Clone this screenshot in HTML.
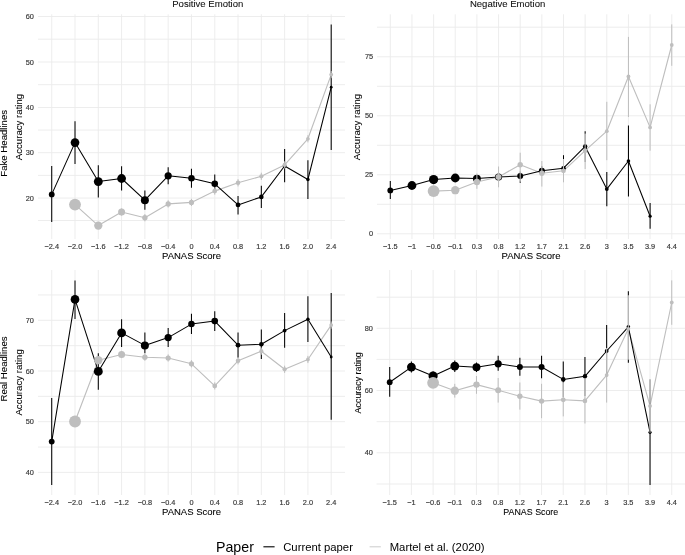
<!DOCTYPE html>
<html lang="en">
<head>
<meta charset="utf-8">
<title>Accuracy rating by PANAS Score</title>
<style>
html,body{margin:0;padding:0;background:#fff;}
body{width:685px;height:555px;overflow:hidden;}
svg{display:block;font-family:"Liberation Sans",Arial,Helvetica,sans-serif;}
text{paint-order:stroke;stroke-linejoin:round;}
.tk{stroke:#363636;stroke-width:0.16px;}
.ax{stroke:#000;stroke-width:0.08px;}
</style>
</head>
<body>
<svg width="685" height="555" viewBox="0 0 685 555">
<rect x="0" y="0" width="685" height="555" fill="#fff"/>
<g class="panel">
<line x1="38" x2="345" y1="39.2" y2="39.2" stroke="#ebebeb" stroke-width="0.9"/>
<line x1="38" x2="345" y1="84.7" y2="84.7" stroke="#ebebeb" stroke-width="0.9"/>
<line x1="38" x2="345" y1="130.1" y2="130.1" stroke="#ebebeb" stroke-width="0.9"/>
<line x1="38" x2="345" y1="175.4" y2="175.4" stroke="#ebebeb" stroke-width="0.9"/>
<line x1="38" x2="345" y1="220.5" y2="220.5" stroke="#ebebeb" stroke-width="0.9"/>
<line x1="38" x2="345" y1="16.5" y2="16.5" stroke="#ebebeb" stroke-width="0.9"/>
<line x1="38" x2="345" y1="62" y2="62" stroke="#ebebeb" stroke-width="0.9"/>
<line x1="38" x2="345" y1="107.5" y2="107.5" stroke="#ebebeb" stroke-width="0.9"/>
<line x1="38" x2="345" y1="152.7" y2="152.7" stroke="#ebebeb" stroke-width="0.9"/>
<line x1="38" x2="345" y1="198.1" y2="198.1" stroke="#ebebeb" stroke-width="0.9"/>
<line x1="51.72" x2="51.72" y1="14.3" y2="239" stroke="#ebebeb" stroke-width="0.9"/>
<line x1="75.01" x2="75.01" y1="14.3" y2="239" stroke="#ebebeb" stroke-width="0.9"/>
<line x1="98.30" x2="98.30" y1="14.3" y2="239" stroke="#ebebeb" stroke-width="0.9"/>
<line x1="121.59" x2="121.59" y1="14.3" y2="239" stroke="#ebebeb" stroke-width="0.9"/>
<line x1="144.88" x2="144.88" y1="14.3" y2="239" stroke="#ebebeb" stroke-width="0.9"/>
<line x1="168.17" x2="168.17" y1="14.3" y2="239" stroke="#ebebeb" stroke-width="0.9"/>
<line x1="191.46" x2="191.46" y1="14.3" y2="239" stroke="#ebebeb" stroke-width="0.9"/>
<line x1="214.75" x2="214.75" y1="14.3" y2="239" stroke="#ebebeb" stroke-width="0.9"/>
<line x1="238.04" x2="238.04" y1="14.3" y2="239" stroke="#ebebeb" stroke-width="0.9"/>
<line x1="261.33" x2="261.33" y1="14.3" y2="239" stroke="#ebebeb" stroke-width="0.9"/>
<line x1="284.62" x2="284.62" y1="14.3" y2="239" stroke="#ebebeb" stroke-width="0.9"/>
<line x1="307.91" x2="307.91" y1="14.3" y2="239" stroke="#ebebeb" stroke-width="0.9"/>
<line x1="331.20" x2="331.20" y1="14.3" y2="239" stroke="#ebebeb" stroke-width="0.9"/>
<polyline points="75.01,204.6 98.30,225.6 121.59,212.0 144.88,217.7 168.17,203.9 191.46,202.4 214.75,191.1 238.04,182.8 261.33,176.3 284.62,164.9 307.91,138.8 331.20,74.6" fill="none" stroke="#bebebe" stroke-width="1.12" stroke-linejoin="round"/>
<polyline points="51.72,194.4 75.01,142.6 98.30,181.6 121.59,178.5 144.88,200.2 168.17,175.8 191.46,178.3 214.75,183.8 238.04,204.9 261.33,196.9 284.62,166.0 307.91,179.5 331.20,87.2" fill="none" stroke="#000" stroke-width="1.05" stroke-linejoin="round"/>
<line x1="51.72" x2="51.72" y1="166.0" y2="222.0" stroke="#000" stroke-width="1.05"/>
<line x1="75.01" x2="75.01" y1="121.3" y2="164.0" stroke="#000" stroke-width="1.05"/>
<line x1="98.30" x2="98.30" y1="165.2" y2="197.6" stroke="#000" stroke-width="1.05"/>
<line x1="121.59" x2="121.59" y1="166.2" y2="190.6" stroke="#000" stroke-width="1.05"/>
<line x1="144.88" x2="144.88" y1="190.4" y2="209.7" stroke="#000" stroke-width="1.05"/>
<line x1="168.17" x2="168.17" y1="167.2" y2="184.3" stroke="#000" stroke-width="1.05"/>
<line x1="191.46" x2="191.46" y1="168.7" y2="187.8" stroke="#000" stroke-width="1.05"/>
<line x1="214.75" x2="214.75" y1="174.5" y2="192.9" stroke="#000" stroke-width="1.05"/>
<line x1="238.04" x2="238.04" y1="195.9" y2="214.5" stroke="#000" stroke-width="1.05"/>
<line x1="261.33" x2="261.33" y1="185.8" y2="207.9" stroke="#000" stroke-width="1.05"/>
<line x1="284.62" x2="284.62" y1="149.1" y2="182.3" stroke="#000" stroke-width="1.05"/>
<line x1="307.91" x2="307.91" y1="160.2" y2="198.9" stroke="#000" stroke-width="1.05"/>
<line x1="331.20" x2="331.20" y1="24.4" y2="150.0" stroke="#000" stroke-width="1.05"/>
<circle cx="51.72" cy="194.4" r="2.9" fill="#000"/>
<circle cx="75.01" cy="142.6" r="4.35" fill="#000"/>
<circle cx="98.30" cy="181.6" r="4.45" fill="#000"/>
<circle cx="121.59" cy="178.5" r="4.4" fill="#000"/>
<circle cx="144.88" cy="200.2" r="4.0" fill="#000"/>
<circle cx="168.17" cy="175.8" r="3.6" fill="#000"/>
<circle cx="191.46" cy="178.3" r="3.25" fill="#000"/>
<circle cx="214.75" cy="183.8" r="3.3" fill="#000"/>
<circle cx="238.04" cy="204.9" r="2.4" fill="#000"/>
<circle cx="261.33" cy="196.9" r="2.3" fill="#000"/>
<circle cx="284.62" cy="166.0" r="1.9" fill="#000"/>
<circle cx="307.91" cy="179.5" r="1.75" fill="#000"/>
<circle cx="331.20" cy="87.2" r="1.4" fill="#000"/>
<line x1="75.01" x2="75.01" y1="204.0" y2="206.0" stroke="#bebebe" stroke-width="1.0"/>
<line x1="98.30" x2="98.30" y1="224.3" y2="226.8" stroke="#bebebe" stroke-width="1.0"/>
<line x1="121.59" x2="121.59" y1="208.4" y2="215.6" stroke="#bebebe" stroke-width="1.0"/>
<line x1="144.88" x2="144.88" y1="214.1" y2="221.3" stroke="#bebebe" stroke-width="1.0"/>
<line x1="168.17" x2="168.17" y1="200.3" y2="207.5" stroke="#bebebe" stroke-width="1.0"/>
<line x1="191.46" x2="191.46" y1="198.8" y2="206.0" stroke="#bebebe" stroke-width="1.0"/>
<line x1="214.75" x2="214.75" y1="187.5" y2="194.7" stroke="#bebebe" stroke-width="1.0"/>
<line x1="238.04" x2="238.04" y1="179.2" y2="186.4" stroke="#bebebe" stroke-width="1.0"/>
<line x1="261.33" x2="261.33" y1="172.7" y2="179.9" stroke="#bebebe" stroke-width="1.0"/>
<line x1="284.62" x2="284.62" y1="161.3" y2="168.5" stroke="#bebebe" stroke-width="1.0"/>
<line x1="307.91" x2="307.91" y1="135.2" y2="142.4" stroke="#bebebe" stroke-width="1.0"/>
<line x1="331.20" x2="331.20" y1="71.0" y2="78.2" stroke="#bebebe" stroke-width="1.0"/>
<circle cx="75.01" cy="204.6" r="5.9" fill="#bebebe"/>
<circle cx="98.30" cy="225.6" r="4.15" fill="#bebebe"/>
<circle cx="121.59" cy="212.0" r="3.5" fill="#bebebe"/>
<circle cx="144.88" cy="217.7" r="2.7" fill="#bebebe"/>
<circle cx="168.17" cy="203.9" r="2.6" fill="#bebebe"/>
<circle cx="191.46" cy="202.4" r="2.6" fill="#bebebe"/>
<circle cx="214.75" cy="191.1" r="2.4" fill="#bebebe"/>
<circle cx="238.04" cy="182.8" r="2.3" fill="#bebebe"/>
<circle cx="261.33" cy="176.3" r="2.1" fill="#bebebe"/>
<circle cx="284.62" cy="164.9" r="2.1" fill="#bebebe"/>
<circle cx="307.91" cy="138.8" r="1.9" fill="#bebebe"/>
<circle cx="331.20" cy="74.6" r="1.9" fill="#bebebe"/>
<text x="33.9" y="16.50" class="tk" font-size="7.35" fill="#363636" text-anchor="end" dominant-baseline="central">60</text>
<text x="33.9" y="62.00" class="tk" font-size="7.35" fill="#363636" text-anchor="end" dominant-baseline="central">50</text>
<text x="33.9" y="107.50" class="tk" font-size="7.35" fill="#363636" text-anchor="end" dominant-baseline="central">40</text>
<text x="33.9" y="152.70" class="tk" font-size="7.35" fill="#363636" text-anchor="end" dominant-baseline="central">30</text>
<text x="33.9" y="198.10" class="tk" font-size="7.35" fill="#363636" text-anchor="end" dominant-baseline="central">20</text>
<text x="51.72" y="246.05" class="tk" font-size="7.35" fill="#363636" text-anchor="middle" dominant-baseline="central">−2.4</text>
<text x="75.01" y="246.05" class="tk" font-size="7.35" fill="#363636" text-anchor="middle" dominant-baseline="central">−2.0</text>
<text x="98.30" y="246.05" class="tk" font-size="7.35" fill="#363636" text-anchor="middle" dominant-baseline="central">−1.6</text>
<text x="121.59" y="246.05" class="tk" font-size="7.35" fill="#363636" text-anchor="middle" dominant-baseline="central">−1.2</text>
<text x="144.88" y="246.05" class="tk" font-size="7.35" fill="#363636" text-anchor="middle" dominant-baseline="central">−0.8</text>
<text x="168.17" y="246.05" class="tk" font-size="7.35" fill="#363636" text-anchor="middle" dominant-baseline="central">−0.4</text>
<text x="191.46" y="246.05" class="tk" font-size="7.35" fill="#363636" text-anchor="middle" dominant-baseline="central">0</text>
<text x="214.75" y="246.05" class="tk" font-size="7.35" fill="#363636" text-anchor="middle" dominant-baseline="central">0.4</text>
<text x="238.04" y="246.05" class="tk" font-size="7.35" fill="#363636" text-anchor="middle" dominant-baseline="central">0.8</text>
<text x="261.33" y="246.05" class="tk" font-size="7.35" fill="#363636" text-anchor="middle" dominant-baseline="central">1.2</text>
<text x="284.62" y="246.05" class="tk" font-size="7.35" fill="#363636" text-anchor="middle" dominant-baseline="central">1.6</text>
<text x="307.91" y="246.05" class="tk" font-size="7.35" fill="#363636" text-anchor="middle" dominant-baseline="central">2.0</text>
<text x="331.20" y="246.05" class="tk" font-size="7.35" fill="#363636" text-anchor="middle" dominant-baseline="central">2.4</text>
<text x="191.5" y="255.5" class="ax" font-size="9.5" fill="#000" text-anchor="middle" dominant-baseline="central">PANAS Score</text>
<text transform="translate(18.1,127) rotate(-90)" class="ax" font-size="9.65" fill="#000" text-anchor="middle" dominant-baseline="central">Accuracy rating</text>
<text transform="translate(3.2,143.3) rotate(-90)" class="ax" font-size="9.6" fill="#000" text-anchor="middle" dominant-baseline="central">Fake Headlines</text>
<text x="207.8" y="3.3" class="ax" font-size="9.56" fill="#111" text-anchor="middle" dominant-baseline="central">Positive Emotion</text>
</g>
<g class="panel">
<line x1="377" x2="685" y1="27.2" y2="27.2" stroke="#ebebeb" stroke-width="0.9"/>
<line x1="377" x2="685" y1="86.3" y2="86.3" stroke="#ebebeb" stroke-width="0.9"/>
<line x1="377" x2="685" y1="145.3" y2="145.3" stroke="#ebebeb" stroke-width="0.9"/>
<line x1="377" x2="685" y1="204.3" y2="204.3" stroke="#ebebeb" stroke-width="0.9"/>
<line x1="377" x2="685" y1="56.8" y2="56.8" stroke="#ebebeb" stroke-width="0.9"/>
<line x1="377" x2="685" y1="115.8" y2="115.8" stroke="#ebebeb" stroke-width="0.9"/>
<line x1="377" x2="685" y1="174.8" y2="174.8" stroke="#ebebeb" stroke-width="0.9"/>
<line x1="377" x2="685" y1="233.8" y2="233.8" stroke="#ebebeb" stroke-width="0.9"/>
<line x1="390.30" x2="390.30" y1="14.3" y2="239" stroke="#ebebeb" stroke-width="0.9"/>
<line x1="411.95" x2="411.95" y1="14.3" y2="239" stroke="#ebebeb" stroke-width="0.9"/>
<line x1="433.60" x2="433.60" y1="14.3" y2="239" stroke="#ebebeb" stroke-width="0.9"/>
<line x1="455.25" x2="455.25" y1="14.3" y2="239" stroke="#ebebeb" stroke-width="0.9"/>
<line x1="476.90" x2="476.90" y1="14.3" y2="239" stroke="#ebebeb" stroke-width="0.9"/>
<line x1="498.55" x2="498.55" y1="14.3" y2="239" stroke="#ebebeb" stroke-width="0.9"/>
<line x1="520.20" x2="520.20" y1="14.3" y2="239" stroke="#ebebeb" stroke-width="0.9"/>
<line x1="541.85" x2="541.85" y1="14.3" y2="239" stroke="#ebebeb" stroke-width="0.9"/>
<line x1="563.50" x2="563.50" y1="14.3" y2="239" stroke="#ebebeb" stroke-width="0.9"/>
<line x1="585.15" x2="585.15" y1="14.3" y2="239" stroke="#ebebeb" stroke-width="0.9"/>
<line x1="606.80" x2="606.80" y1="14.3" y2="239" stroke="#ebebeb" stroke-width="0.9"/>
<line x1="628.45" x2="628.45" y1="14.3" y2="239" stroke="#ebebeb" stroke-width="0.9"/>
<line x1="650.10" x2="650.10" y1="14.3" y2="239" stroke="#ebebeb" stroke-width="0.9"/>
<line x1="671.75" x2="671.75" y1="14.3" y2="239" stroke="#ebebeb" stroke-width="0.9"/>
<polyline points="433.60,191.1 455.25,190.2 476.90,182.0 498.55,177.0 520.20,164.7 541.85,173.3 563.50,170.8 585.15,150.7 606.80,131.2 628.45,76.5 650.10,127.4 671.75,45" fill="none" stroke="#bebebe" stroke-width="1.12" stroke-linejoin="round"/>
<polyline points="390.30,190.4 411.95,185.5 433.60,179.6 455.25,178.0 476.90,178.6 498.55,177.0 520.20,176 541.85,170.8 563.50,168.2 585.15,146.4 606.80,189.1 628.45,161 650.10,216.2" fill="none" stroke="#000" stroke-width="1.05" stroke-linejoin="round"/>
<line x1="390.30" x2="390.30" y1="181.0" y2="199.1" stroke="#000" stroke-width="1.05"/>
<line x1="411.95" x2="411.95" y1="182.5" y2="188.7" stroke="#000" stroke-width="1.05"/>
<line x1="433.60" x2="433.60" y1="177.0" y2="182.6" stroke="#000" stroke-width="1.05"/>
<line x1="455.25" x2="455.25" y1="175.5" y2="181.0" stroke="#000" stroke-width="1.05"/>
<line x1="476.90" x2="476.90" y1="175.5" y2="182.0" stroke="#000" stroke-width="1.05" stroke-opacity="0.5"/>
<line x1="498.55" x2="498.55" y1="173.5" y2="181.0" stroke="#000" stroke-width="1.05" stroke-opacity="0.5"/>
<line x1="520.20" x2="520.20" y1="171.5" y2="181.6" stroke="#000" stroke-width="1.05" stroke-opacity="0.5"/>
<line x1="520.20" x2="520.20" y1="181.6" y2="182.8" stroke="#000" stroke-width="1.05"/>
<line x1="541.85" x2="541.85" y1="166.0" y2="175.5" stroke="#000" stroke-width="1.05" stroke-opacity="0.5"/>
<line x1="563.50" x2="563.50" y1="155.2" y2="159.0" stroke="#000" stroke-width="1.05"/>
<line x1="563.50" x2="563.50" y1="159.0" y2="181.0" stroke="#000" stroke-width="1.05" stroke-opacity="0.5"/>
<line x1="585.15" x2="585.15" y1="131.2" y2="133.8" stroke="#000" stroke-width="1.05"/>
<line x1="585.15" x2="585.15" y1="133.8" y2="162.0" stroke="#000" stroke-width="1.05" stroke-opacity="0.5"/>
<line x1="606.80" x2="606.80" y1="172.0" y2="206.2" stroke="#000" stroke-width="1.05"/>
<line x1="628.45" x2="628.45" y1="125.5" y2="196.6" stroke="#000" stroke-width="1.05"/>
<line x1="650.10" x2="650.10" y1="202.9" y2="228.8" stroke="#000" stroke-width="1.05"/>
<circle cx="390.30" cy="190.4" r="2.9" fill="#000"/>
<circle cx="411.95" cy="185.5" r="4.4" fill="#000"/>
<circle cx="433.60" cy="179.6" r="4.6" fill="#000"/>
<circle cx="455.25" cy="178.0" r="4.4" fill="#000"/>
<circle cx="476.90" cy="178.6" r="3.95" fill="#000"/>
<circle cx="498.55" cy="177.0" r="3.6" fill="#000"/>
<circle cx="520.20" cy="176" r="3.0" fill="#000"/>
<circle cx="541.85" cy="170.8" r="3.0" fill="#000"/>
<circle cx="563.50" cy="168.2" r="2.3" fill="#000"/>
<circle cx="585.15" cy="146.4" r="2.2" fill="#000"/>
<circle cx="606.80" cy="189.1" r="1.9" fill="#000"/>
<circle cx="628.45" cy="161" r="1.8" fill="#000"/>
<circle cx="650.10" cy="216.2" r="1.6" fill="#000"/>
<line x1="433.60" x2="433.60" y1="190.0" y2="192.0" stroke="#bebebe" stroke-width="1.0"/>
<line x1="455.25" x2="455.25" y1="188.5" y2="192.3" stroke="#bebebe" stroke-width="1.0"/>
<line x1="476.90" x2="476.90" y1="173.5" y2="188.8" stroke="#bebebe" stroke-width="1.0"/>
<line x1="498.55" x2="498.55" y1="166.5" y2="187.3" stroke="#bebebe" stroke-width="1.0"/>
<line x1="520.20" x2="520.20" y1="152.7" y2="181.6" stroke="#bebebe" stroke-width="1.0"/>
<line x1="541.85" x2="541.85" y1="161.0" y2="186.6" stroke="#bebebe" stroke-width="1.0"/>
<line x1="563.50" x2="563.50" y1="159.0" y2="182.3" stroke="#bebebe" stroke-width="1.0"/>
<line x1="585.15" x2="585.15" y1="133.8" y2="169.0" stroke="#bebebe" stroke-width="1.0"/>
<line x1="606.80" x2="606.80" y1="101.8" y2="160.2" stroke="#bebebe" stroke-width="1.0"/>
<line x1="628.45" x2="628.45" y1="36.9" y2="117.0" stroke="#bebebe" stroke-width="1.0"/>
<line x1="650.10" x2="650.10" y1="104.3" y2="150.7" stroke="#bebebe" stroke-width="1.0"/>
<line x1="671.75" x2="671.75" y1="24.4" y2="65.8" stroke="#bebebe" stroke-width="1.0"/>
<circle cx="433.60" cy="191.1" r="5.9" fill="#bebebe"/>
<circle cx="455.25" cy="190.2" r="4.15" fill="#bebebe"/>
<circle cx="476.90" cy="182.0" r="3.2" fill="#bebebe"/>
<circle cx="498.55" cy="177.0" r="3.0" fill="#bebebe"/>
<circle cx="520.20" cy="164.7" r="2.7" fill="#bebebe"/>
<circle cx="541.85" cy="173.3" r="2.7" fill="#bebebe"/>
<circle cx="563.50" cy="170.8" r="2.4" fill="#bebebe"/>
<circle cx="585.15" cy="150.7" r="2.3" fill="#bebebe"/>
<circle cx="606.80" cy="131.2" r="1.9" fill="#bebebe"/>
<circle cx="628.45" cy="76.5" r="1.9" fill="#bebebe"/>
<circle cx="650.10" cy="127.4" r="1.9" fill="#bebebe"/>
<circle cx="671.75" cy="45" r="1.9" fill="#bebebe"/>
<text x="373.1" y="56.80" class="tk" font-size="7.35" fill="#363636" text-anchor="end" dominant-baseline="central">75</text>
<text x="373.1" y="115.80" class="tk" font-size="7.35" fill="#363636" text-anchor="end" dominant-baseline="central">50</text>
<text x="373.1" y="174.80" class="tk" font-size="7.35" fill="#363636" text-anchor="end" dominant-baseline="central">25</text>
<text x="373.1" y="233.80" class="tk" font-size="7.35" fill="#363636" text-anchor="end" dominant-baseline="central">0</text>
<text x="390.30" y="246.05" class="tk" font-size="7.35" fill="#363636" text-anchor="middle" dominant-baseline="central">−1.5</text>
<text x="411.95" y="246.05" class="tk" font-size="7.35" fill="#363636" text-anchor="middle" dominant-baseline="central">−1</text>
<text x="433.60" y="246.05" class="tk" font-size="7.35" fill="#363636" text-anchor="middle" dominant-baseline="central">−0.6</text>
<text x="455.25" y="246.05" class="tk" font-size="7.35" fill="#363636" text-anchor="middle" dominant-baseline="central">−0.1</text>
<text x="476.90" y="246.05" class="tk" font-size="7.35" fill="#363636" text-anchor="middle" dominant-baseline="central">0.3</text>
<text x="498.55" y="246.05" class="tk" font-size="7.35" fill="#363636" text-anchor="middle" dominant-baseline="central">0.8</text>
<text x="520.20" y="246.05" class="tk" font-size="7.35" fill="#363636" text-anchor="middle" dominant-baseline="central">1.2</text>
<text x="541.85" y="246.05" class="tk" font-size="7.35" fill="#363636" text-anchor="middle" dominant-baseline="central">1.7</text>
<text x="563.50" y="246.05" class="tk" font-size="7.35" fill="#363636" text-anchor="middle" dominant-baseline="central">2.1</text>
<text x="585.15" y="246.05" class="tk" font-size="7.35" fill="#363636" text-anchor="middle" dominant-baseline="central">2.6</text>
<text x="606.80" y="246.05" class="tk" font-size="7.35" fill="#363636" text-anchor="middle" dominant-baseline="central">3</text>
<text x="628.45" y="246.05" class="tk" font-size="7.35" fill="#363636" text-anchor="middle" dominant-baseline="central">3.5</text>
<text x="650.10" y="246.05" class="tk" font-size="7.35" fill="#363636" text-anchor="middle" dominant-baseline="central">3.9</text>
<text x="671.75" y="246.05" class="tk" font-size="7.35" fill="#363636" text-anchor="middle" dominant-baseline="central">4.4</text>
<text x="531.0" y="255.5" class="ax" font-size="9.5" fill="#000" text-anchor="middle" dominant-baseline="central">PANAS Score</text>
<text transform="translate(356.6,127) rotate(-90)" class="ax" font-size="9.65" fill="#000" text-anchor="middle" dominant-baseline="central">Accuracy rating</text>
<text x="507.6" y="3.3" class="ax" font-size="9.56" fill="#111" text-anchor="middle" dominant-baseline="central">Negative Emotion</text>
</g>
<g class="panel">
<line x1="38" x2="345" y1="294.95" y2="294.95" stroke="#ebebeb" stroke-width="0.9"/>
<line x1="38" x2="345" y1="345.65" y2="345.65" stroke="#ebebeb" stroke-width="0.9"/>
<line x1="38" x2="345" y1="396.35" y2="396.35" stroke="#ebebeb" stroke-width="0.9"/>
<line x1="38" x2="345" y1="447.05" y2="447.05" stroke="#ebebeb" stroke-width="0.9"/>
<line x1="38" x2="345" y1="320.3" y2="320.3" stroke="#ebebeb" stroke-width="0.9"/>
<line x1="38" x2="345" y1="371.0" y2="371.0" stroke="#ebebeb" stroke-width="0.9"/>
<line x1="38" x2="345" y1="421.7" y2="421.7" stroke="#ebebeb" stroke-width="0.9"/>
<line x1="38" x2="345" y1="472.4" y2="472.4" stroke="#ebebeb" stroke-width="0.9"/>
<line x1="51.72" x2="51.72" y1="270" y2="495.0" stroke="#ebebeb" stroke-width="0.9"/>
<line x1="75.01" x2="75.01" y1="270" y2="495.0" stroke="#ebebeb" stroke-width="0.9"/>
<line x1="98.30" x2="98.30" y1="270" y2="495.0" stroke="#ebebeb" stroke-width="0.9"/>
<line x1="121.59" x2="121.59" y1="270" y2="495.0" stroke="#ebebeb" stroke-width="0.9"/>
<line x1="144.88" x2="144.88" y1="270" y2="495.0" stroke="#ebebeb" stroke-width="0.9"/>
<line x1="168.17" x2="168.17" y1="270" y2="495.0" stroke="#ebebeb" stroke-width="0.9"/>
<line x1="191.46" x2="191.46" y1="270" y2="495.0" stroke="#ebebeb" stroke-width="0.9"/>
<line x1="214.75" x2="214.75" y1="270" y2="495.0" stroke="#ebebeb" stroke-width="0.9"/>
<line x1="238.04" x2="238.04" y1="270" y2="495.0" stroke="#ebebeb" stroke-width="0.9"/>
<line x1="261.33" x2="261.33" y1="270" y2="495.0" stroke="#ebebeb" stroke-width="0.9"/>
<line x1="284.62" x2="284.62" y1="270" y2="495.0" stroke="#ebebeb" stroke-width="0.9"/>
<line x1="307.91" x2="307.91" y1="270" y2="495.0" stroke="#ebebeb" stroke-width="0.9"/>
<line x1="331.20" x2="331.20" y1="270" y2="495.0" stroke="#ebebeb" stroke-width="0.9"/>
<polyline points="75.01,421.5 98.30,360.2 121.59,354.5 144.88,357.2 168.17,358 191.46,363.8 214.75,385.9 238.04,360.8 261.33,351.2 284.62,369.3 307.91,359.5 331.20,325.1" fill="none" stroke="#bebebe" stroke-width="1.12" stroke-linejoin="round"/>
<polyline points="51.72,441.6 75.01,299.4 98.30,371.4 121.59,332.9 144.88,345.4 168.17,337.6 191.46,324.1 214.75,321.1 238.04,345.2 261.33,344.2 284.62,330.6 307.91,319.3 331.20,357" fill="none" stroke="#000" stroke-width="1.05" stroke-linejoin="round"/>
<line x1="51.72" x2="51.72" y1="398.1" y2="485.0" stroke="#000" stroke-width="1.05"/>
<line x1="75.01" x2="75.01" y1="280.4" y2="318.9" stroke="#000" stroke-width="1.05"/>
<line x1="98.30" x2="98.30" y1="353.2" y2="389.7" stroke="#000" stroke-width="1.05"/>
<line x1="121.59" x2="121.59" y1="319.3" y2="346.9" stroke="#000" stroke-width="1.05"/>
<line x1="144.88" x2="144.88" y1="332.6" y2="353.2" stroke="#000" stroke-width="1.05"/>
<line x1="168.17" x2="168.17" y1="328.1" y2="346.9" stroke="#000" stroke-width="1.05"/>
<line x1="191.46" x2="191.46" y1="313.8" y2="333.9" stroke="#000" stroke-width="1.05"/>
<line x1="214.75" x2="214.75" y1="311.3" y2="331.1" stroke="#000" stroke-width="1.05"/>
<line x1="238.04" x2="238.04" y1="332.6" y2="357.7" stroke="#000" stroke-width="1.05"/>
<line x1="261.33" x2="261.33" y1="329.4" y2="359.0" stroke="#000" stroke-width="1.05"/>
<line x1="284.62" x2="284.62" y1="313.0" y2="347.7" stroke="#000" stroke-width="1.05"/>
<line x1="307.91" x2="307.91" y1="296.2" y2="341.9" stroke="#000" stroke-width="1.05"/>
<line x1="331.20" x2="331.20" y1="292.9" y2="419.7" stroke="#000" stroke-width="1.05"/>
<circle cx="51.72" cy="441.6" r="2.9" fill="#000"/>
<circle cx="75.01" cy="299.4" r="4.35" fill="#000"/>
<circle cx="98.30" cy="371.4" r="4.45" fill="#000"/>
<circle cx="121.59" cy="332.9" r="4.4" fill="#000"/>
<circle cx="144.88" cy="345.4" r="4.0" fill="#000"/>
<circle cx="168.17" cy="337.6" r="3.6" fill="#000"/>
<circle cx="191.46" cy="324.1" r="3.25" fill="#000"/>
<circle cx="214.75" cy="321.1" r="3.3" fill="#000"/>
<circle cx="238.04" cy="345.2" r="2.4" fill="#000"/>
<circle cx="261.33" cy="344.2" r="2.3" fill="#000"/>
<circle cx="284.62" cy="330.6" r="1.9" fill="#000"/>
<circle cx="307.91" cy="319.3" r="1.75" fill="#000"/>
<circle cx="331.20" cy="357" r="1.4" fill="#000"/>
<line x1="75.01" x2="75.01" y1="420.5" y2="422.5" stroke="#bebebe" stroke-width="1.0"/>
<line x1="98.30" x2="98.30" y1="358.5" y2="362.0" stroke="#bebebe" stroke-width="1.0"/>
<line x1="121.59" x2="121.59" y1="350.9" y2="358.1" stroke="#bebebe" stroke-width="1.0"/>
<line x1="144.88" x2="144.88" y1="353.6" y2="360.8" stroke="#bebebe" stroke-width="1.0"/>
<line x1="168.17" x2="168.17" y1="354.4" y2="361.6" stroke="#bebebe" stroke-width="1.0"/>
<line x1="191.46" x2="191.46" y1="360.2" y2="367.4" stroke="#bebebe" stroke-width="1.0"/>
<line x1="214.75" x2="214.75" y1="382.3" y2="389.5" stroke="#bebebe" stroke-width="1.0"/>
<line x1="238.04" x2="238.04" y1="357.2" y2="364.4" stroke="#bebebe" stroke-width="1.0"/>
<line x1="261.33" x2="261.33" y1="347.6" y2="354.8" stroke="#bebebe" stroke-width="1.0"/>
<line x1="284.62" x2="284.62" y1="365.7" y2="372.9" stroke="#bebebe" stroke-width="1.0"/>
<line x1="307.91" x2="307.91" y1="355.9" y2="363.1" stroke="#bebebe" stroke-width="1.0"/>
<line x1="331.20" x2="331.20" y1="321.5" y2="328.7" stroke="#bebebe" stroke-width="1.0"/>
<circle cx="75.01" cy="421.5" r="5.9" fill="#bebebe"/>
<circle cx="98.30" cy="360.2" r="4.15" fill="#bebebe"/>
<circle cx="121.59" cy="354.5" r="3.5" fill="#bebebe"/>
<circle cx="144.88" cy="357.2" r="2.7" fill="#bebebe"/>
<circle cx="168.17" cy="358" r="2.6" fill="#bebebe"/>
<circle cx="191.46" cy="363.8" r="2.6" fill="#bebebe"/>
<circle cx="214.75" cy="385.9" r="2.4" fill="#bebebe"/>
<circle cx="238.04" cy="360.8" r="2.3" fill="#bebebe"/>
<circle cx="261.33" cy="351.2" r="2.1" fill="#bebebe"/>
<circle cx="284.62" cy="369.3" r="2.1" fill="#bebebe"/>
<circle cx="307.91" cy="359.5" r="1.9" fill="#bebebe"/>
<circle cx="331.20" cy="325.1" r="1.9" fill="#bebebe"/>
<text x="33.9" y="320.30" class="tk" font-size="7.35" fill="#363636" text-anchor="end" dominant-baseline="central">70</text>
<text x="33.9" y="371.00" class="tk" font-size="7.35" fill="#363636" text-anchor="end" dominant-baseline="central">60</text>
<text x="33.9" y="421.70" class="tk" font-size="7.35" fill="#363636" text-anchor="end" dominant-baseline="central">50</text>
<text x="33.9" y="472.40" class="tk" font-size="7.35" fill="#363636" text-anchor="end" dominant-baseline="central">40</text>
<text x="51.72" y="502.15" class="tk" font-size="7.35" fill="#363636" text-anchor="middle" dominant-baseline="central">−2.4</text>
<text x="75.01" y="502.15" class="tk" font-size="7.35" fill="#363636" text-anchor="middle" dominant-baseline="central">−2.0</text>
<text x="98.30" y="502.15" class="tk" font-size="7.35" fill="#363636" text-anchor="middle" dominant-baseline="central">−1.6</text>
<text x="121.59" y="502.15" class="tk" font-size="7.35" fill="#363636" text-anchor="middle" dominant-baseline="central">−1.2</text>
<text x="144.88" y="502.15" class="tk" font-size="7.35" fill="#363636" text-anchor="middle" dominant-baseline="central">−0.8</text>
<text x="168.17" y="502.15" class="tk" font-size="7.35" fill="#363636" text-anchor="middle" dominant-baseline="central">−0.4</text>
<text x="191.46" y="502.15" class="tk" font-size="7.35" fill="#363636" text-anchor="middle" dominant-baseline="central">0</text>
<text x="214.75" y="502.15" class="tk" font-size="7.35" fill="#363636" text-anchor="middle" dominant-baseline="central">0.4</text>
<text x="238.04" y="502.15" class="tk" font-size="7.35" fill="#363636" text-anchor="middle" dominant-baseline="central">0.8</text>
<text x="261.33" y="502.15" class="tk" font-size="7.35" fill="#363636" text-anchor="middle" dominant-baseline="central">1.2</text>
<text x="284.62" y="502.15" class="tk" font-size="7.35" fill="#363636" text-anchor="middle" dominant-baseline="central">1.6</text>
<text x="307.91" y="502.15" class="tk" font-size="7.35" fill="#363636" text-anchor="middle" dominant-baseline="central">2.0</text>
<text x="331.20" y="502.15" class="tk" font-size="7.35" fill="#363636" text-anchor="middle" dominant-baseline="central">2.4</text>
<text x="191.5" y="511.8" class="ax" font-size="9.5" fill="#000" text-anchor="middle" dominant-baseline="central">PANAS Score</text>
<text transform="translate(18.1,382.4) rotate(-90)" class="ax" font-size="9.65" fill="#000" text-anchor="middle" dominant-baseline="central">Accuracy rating</text>
<text transform="translate(3.2,369) rotate(-90)" class="ax" font-size="9.6" fill="#000" text-anchor="middle" dominant-baseline="central">Real Headlines</text>
</g>
<g class="panel">
<line x1="376.6" x2="685" y1="297.2" y2="297.2" stroke="#ebebeb" stroke-width="0.9"/>
<line x1="376.6" x2="685" y1="359.4" y2="359.4" stroke="#ebebeb" stroke-width="0.9"/>
<line x1="376.6" x2="685" y1="421.7" y2="421.7" stroke="#ebebeb" stroke-width="0.9"/>
<line x1="376.6" x2="685" y1="484.0" y2="484.0" stroke="#ebebeb" stroke-width="0.9"/>
<line x1="376.6" x2="685" y1="328.3" y2="328.3" stroke="#ebebeb" stroke-width="0.9"/>
<line x1="376.6" x2="685" y1="390.5" y2="390.5" stroke="#ebebeb" stroke-width="0.9"/>
<line x1="376.6" x2="685" y1="452.8" y2="452.8" stroke="#ebebeb" stroke-width="0.9"/>
<line x1="389.70" x2="389.70" y1="270" y2="495.0" stroke="#ebebeb" stroke-width="0.9"/>
<line x1="411.39" x2="411.39" y1="270" y2="495.0" stroke="#ebebeb" stroke-width="0.9"/>
<line x1="433.09" x2="433.09" y1="270" y2="495.0" stroke="#ebebeb" stroke-width="0.9"/>
<line x1="454.78" x2="454.78" y1="270" y2="495.0" stroke="#ebebeb" stroke-width="0.9"/>
<line x1="476.48" x2="476.48" y1="270" y2="495.0" stroke="#ebebeb" stroke-width="0.9"/>
<line x1="498.17" x2="498.17" y1="270" y2="495.0" stroke="#ebebeb" stroke-width="0.9"/>
<line x1="519.87" x2="519.87" y1="270" y2="495.0" stroke="#ebebeb" stroke-width="0.9"/>
<line x1="541.57" x2="541.57" y1="270" y2="495.0" stroke="#ebebeb" stroke-width="0.9"/>
<line x1="563.26" x2="563.26" y1="270" y2="495.0" stroke="#ebebeb" stroke-width="0.9"/>
<line x1="584.95" x2="584.95" y1="270" y2="495.0" stroke="#ebebeb" stroke-width="0.9"/>
<line x1="606.65" x2="606.65" y1="270" y2="495.0" stroke="#ebebeb" stroke-width="0.9"/>
<line x1="628.35" x2="628.35" y1="270" y2="495.0" stroke="#ebebeb" stroke-width="0.9"/>
<line x1="650.04" x2="650.04" y1="270" y2="495.0" stroke="#ebebeb" stroke-width="0.9"/>
<line x1="671.74" x2="671.74" y1="270" y2="495.0" stroke="#ebebeb" stroke-width="0.9"/>
<polyline points="433.09,382.8 454.78,390.7 476.48,384.6 498.17,390.2 519.87,396.3 541.57,401.1 563.26,399.8 584.95,400.9 606.65,375.1 628.35,328.8 650.04,405.9 671.74,302.5" fill="none" stroke="#bebebe" stroke-width="1.12" stroke-linejoin="round"/>
<polyline points="389.70,382.2 411.39,367.1 433.09,376.0 454.78,366.1 476.48,367.3 498.17,363.8 519.87,367 541.57,367 563.26,379.4 584.95,376.3 606.65,351 628.35,326.8 650.04,432.3" fill="none" stroke="#000" stroke-width="1.05" stroke-linejoin="round"/>
<line x1="389.70" x2="389.70" y1="367.1" y2="396.8" stroke="#000" stroke-width="1.05"/>
<line x1="411.39" x2="411.39" y1="361.6" y2="372.6" stroke="#000" stroke-width="1.05"/>
<line x1="433.09" x2="433.09" y1="371.3" y2="380.7" stroke="#000" stroke-width="1.05"/>
<line x1="454.78" x2="454.78" y1="360.5" y2="372.0" stroke="#000" stroke-width="1.05"/>
<line x1="476.48" x2="476.48" y1="362.5" y2="372.0" stroke="#000" stroke-width="1.05"/>
<line x1="498.17" x2="498.17" y1="355.7" y2="370.8" stroke="#000" stroke-width="1.05"/>
<line x1="519.87" x2="519.87" y1="357.7" y2="375.8" stroke="#000" stroke-width="1.05"/>
<line x1="541.57" x2="541.57" y1="355.7" y2="378.3" stroke="#000" stroke-width="1.05"/>
<line x1="563.26" x2="563.26" y1="361.5" y2="382.5" stroke="#000" stroke-width="1.05"/>
<line x1="563.26" x2="563.26" y1="382.5" y2="397.0" stroke="#000" stroke-width="1.05" stroke-opacity="0.5"/>
<line x1="584.95" x2="584.95" y1="357.0" y2="378.0" stroke="#000" stroke-width="1.05"/>
<line x1="584.95" x2="584.95" y1="378.0" y2="396.0" stroke="#000" stroke-width="1.05" stroke-opacity="0.5"/>
<line x1="606.65" x2="606.65" y1="325.0" y2="348.0" stroke="#000" stroke-width="1.05"/>
<line x1="606.65" x2="606.65" y1="348.0" y2="377.0" stroke="#000" stroke-width="1.05" stroke-opacity="0.5"/>
<line x1="628.35" x2="628.35" y1="291.2" y2="295.4" stroke="#000" stroke-width="1.05"/>
<line x1="628.35" x2="628.35" y1="295.4" y2="359.5" stroke="#000" stroke-width="1.05" stroke-opacity="0.5"/>
<line x1="628.35" x2="628.35" y1="359.5" y2="362.8" stroke="#000" stroke-width="1.05"/>
<line x1="650.04" x2="650.04" y1="379.6" y2="432.7" stroke="#000" stroke-width="1.05" stroke-opacity="0.5"/>
<line x1="650.04" x2="650.04" y1="432.7" y2="485.0" stroke="#000" stroke-width="1.05"/>
<circle cx="389.70" cy="382.2" r="2.9" fill="#000"/>
<circle cx="411.39" cy="367.1" r="4.4" fill="#000"/>
<circle cx="433.09" cy="376.0" r="4.6" fill="#000"/>
<circle cx="454.78" cy="366.1" r="4.4" fill="#000"/>
<circle cx="476.48" cy="367.3" r="3.95" fill="#000"/>
<circle cx="498.17" cy="363.8" r="3.6" fill="#000"/>
<circle cx="519.87" cy="367" r="3.0" fill="#000"/>
<circle cx="541.57" cy="367" r="3.0" fill="#000"/>
<circle cx="563.26" cy="379.4" r="2.3" fill="#000"/>
<circle cx="584.95" cy="376.3" r="2.2" fill="#000"/>
<circle cx="606.65" cy="351" r="1.9" fill="#000"/>
<circle cx="628.35" cy="326.8" r="1.8" fill="#000"/>
<circle cx="650.04" cy="432.3" r="1.6" fill="#000"/>
<line x1="433.09" x2="433.09" y1="381.5" y2="383.7" stroke="#bebebe" stroke-width="1.0"/>
<line x1="454.78" x2="454.78" y1="383.8" y2="397.6" stroke="#bebebe" stroke-width="1.0"/>
<line x1="476.48" x2="476.48" y1="376.0" y2="393.8" stroke="#bebebe" stroke-width="1.0"/>
<line x1="498.17" x2="498.17" y1="378.0" y2="402.6" stroke="#bebebe" stroke-width="1.0"/>
<line x1="519.87" x2="519.87" y1="382.5" y2="409.6" stroke="#bebebe" stroke-width="1.0"/>
<line x1="541.57" x2="541.57" y1="383.8" y2="418.2" stroke="#bebebe" stroke-width="1.0"/>
<line x1="563.26" x2="563.26" y1="382.5" y2="416.4" stroke="#bebebe" stroke-width="1.0"/>
<line x1="584.95" x2="584.95" y1="378.0" y2="423.5" stroke="#bebebe" stroke-width="1.0"/>
<line x1="606.65" x2="606.65" y1="348.0" y2="402.6" stroke="#bebebe" stroke-width="1.0"/>
<line x1="628.35" x2="628.35" y1="295.4" y2="359.5" stroke="#bebebe" stroke-width="1.0"/>
<line x1="650.04" x2="650.04" y1="379.1" y2="432.7" stroke="#bebebe" stroke-width="1.0"/>
<line x1="671.74" x2="671.74" y1="280.4" y2="324.8" stroke="#bebebe" stroke-width="1.0"/>
<circle cx="433.09" cy="382.8" r="5.9" fill="#bebebe"/>
<circle cx="454.78" cy="390.7" r="4.15" fill="#bebebe"/>
<circle cx="476.48" cy="384.6" r="3.2" fill="#bebebe"/>
<circle cx="498.17" cy="390.2" r="3.0" fill="#bebebe"/>
<circle cx="519.87" cy="396.3" r="2.7" fill="#bebebe"/>
<circle cx="541.57" cy="401.1" r="2.7" fill="#bebebe"/>
<circle cx="563.26" cy="399.8" r="2.4" fill="#bebebe"/>
<circle cx="584.95" cy="400.9" r="2.3" fill="#bebebe"/>
<circle cx="606.65" cy="375.1" r="1.9" fill="#bebebe"/>
<circle cx="628.35" cy="328.8" r="1.9" fill="#bebebe"/>
<circle cx="650.04" cy="405.9" r="1.9" fill="#bebebe"/>
<circle cx="671.74" cy="302.5" r="1.9" fill="#bebebe"/>
<text x="372.9" y="328.30" class="tk" font-size="7.35" fill="#363636" text-anchor="end" dominant-baseline="central">80</text>
<text x="372.9" y="390.50" class="tk" font-size="7.35" fill="#363636" text-anchor="end" dominant-baseline="central">60</text>
<text x="372.9" y="452.80" class="tk" font-size="7.35" fill="#363636" text-anchor="end" dominant-baseline="central">40</text>
<text x="389.70" y="502.55" class="tk" font-size="7.35" fill="#363636" text-anchor="middle" dominant-baseline="central">−1.5</text>
<text x="411.39" y="502.55" class="tk" font-size="7.35" fill="#363636" text-anchor="middle" dominant-baseline="central">−1</text>
<text x="433.09" y="502.55" class="tk" font-size="7.35" fill="#363636" text-anchor="middle" dominant-baseline="central">−0.6</text>
<text x="454.78" y="502.55" class="tk" font-size="7.35" fill="#363636" text-anchor="middle" dominant-baseline="central">−0.1</text>
<text x="476.48" y="502.55" class="tk" font-size="7.35" fill="#363636" text-anchor="middle" dominant-baseline="central">0.3</text>
<text x="498.17" y="502.55" class="tk" font-size="7.35" fill="#363636" text-anchor="middle" dominant-baseline="central">0.8</text>
<text x="519.87" y="502.55" class="tk" font-size="7.35" fill="#363636" text-anchor="middle" dominant-baseline="central">1.2</text>
<text x="541.57" y="502.55" class="tk" font-size="7.35" fill="#363636" text-anchor="middle" dominant-baseline="central">1.7</text>
<text x="563.26" y="502.55" class="tk" font-size="7.35" fill="#363636" text-anchor="middle" dominant-baseline="central">2.1</text>
<text x="584.95" y="502.55" class="tk" font-size="7.35" fill="#363636" text-anchor="middle" dominant-baseline="central">2.6</text>
<text x="606.65" y="502.55" class="tk" font-size="7.35" fill="#363636" text-anchor="middle" dominant-baseline="central">3</text>
<text x="628.35" y="502.55" class="tk" font-size="7.35" fill="#363636" text-anchor="middle" dominant-baseline="central">3.5</text>
<text x="650.04" y="502.55" class="tk" font-size="7.35" fill="#363636" text-anchor="middle" dominant-baseline="central">3.9</text>
<text x="671.74" y="502.55" class="tk" font-size="7.35" fill="#363636" text-anchor="middle" dominant-baseline="central">4.4</text>
<text x="530.8" y="511.9" class="ax" font-size="8.85" fill="#000" text-anchor="middle" dominant-baseline="central">PANAS Score</text>
<text transform="translate(357.6,382.8) rotate(-90)" class="ax" font-size="8.9" fill="#000" text-anchor="middle" dominant-baseline="central">Accuracy rating</text>
</g>
<g class="legend">
<text x="216" y="547.3" font-size="14.2" fill="#000" dominant-baseline="central">Paper</text>
<line x1="263.4" x2="274.6" y1="546.8" y2="546.8" stroke="#000" stroke-width="1.1"/>
<text x="283.2" y="547.3" font-size="11.3" fill="#000" dominant-baseline="central">Current paper</text>
<line x1="369.6" x2="380.8" y1="546.8" y2="546.8" stroke="#bebebe" stroke-width="0.8"/>
<text x="389.7" y="547.3" font-size="11.3" fill="#000" dominant-baseline="central">Martel et al. (2020)</text>
</g>
</svg>
</body>
</html>
